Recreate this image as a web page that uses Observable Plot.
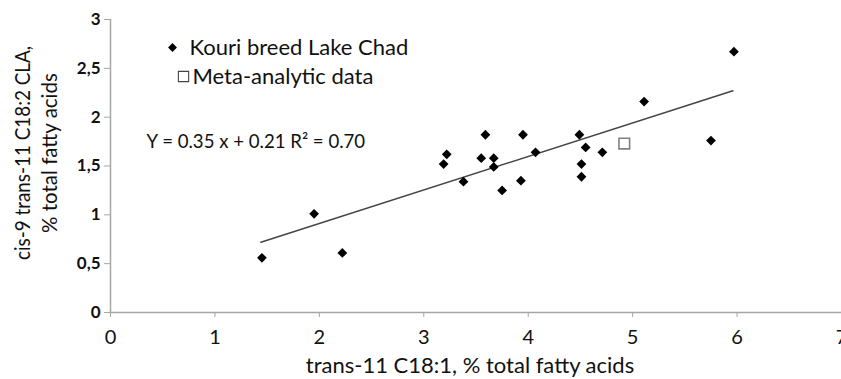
<!DOCTYPE html>
<html>
<head>
<meta charset="utf-8">
<script src="https://cdn.jsdelivr.net/npm/d3@7"></script>
<script src="https://cdn.jsdelivr.net/npm/@observablehq/plot@0.6"></script>
<style>
  html, body { margin: 0; padding: 0; background: #fff; }
  #chart { width: 841px; height: 379px; overflow: hidden; }
</style>
</head>
<body>
<div id="chart"></div>
<script>
// Kouri breed Lake Chad observations
const kouriX = [1.45, 1.95, 2.22, 3.19, 3.22, 3.38, 3.55, 3.59, 3.67, 3.67, 3.75, 3.93, 3.95, 4.07, 4.49, 4.51, 4.51, 4.55, 4.71, 5.11, 5.75, 5.97];
const kouriY = [0.56, 1.01, 0.61, 1.52, 1.62, 1.34, 1.58, 1.82, 1.58, 1.49, 1.25, 1.35, 1.82, 1.64, 1.82, 1.52, 1.39, 1.69, 1.64, 2.16, 1.76, 2.67];
// Meta-analytic data point
const metaX = [4.92];
const metaY = [1.73];
// Regression line end points (as drawn)
const fitX = [1.44, 5.96];
const fitY = [0.72, 2.27];
// Ticks
const xTicks = [0, 1, 2, 3, 4, 5, 6, 7];
const xTickLabels = ["0", "1", "2", "3", "4", "5", "6", "7"];
const yTicks = [0, 0.5, 1, 1.5, 2, 2.5, 3];
const yTickLabels = ["0", "0,5", "1", "1,5", "2", "2,5", "3"];
// Texts
const xTitle = "trans-11 C18:1, % total fatty acids";
const yTitle1 = "cis-9 trans-11 C18:2 CLA,";
const yTitle2 = "% total fatty acids";
const legendLabels = ["Kouri breed Lake Chad", "Meta-analytic data"];
const equation = "Y = 0.35 x + 0.21 R² = 0.70";

const kouri = kouriX.map((x, i) => ({x, y: kouriY[i]}));
const meta = metaX.map((x, i) => ({x, y: metaY[i]}));
const fit = fitX.map((x, i) => ({x, y: fitY[i]}));

const FONT = "Lato, 'Open Sans', sans-serif";
const AXIS = "#a6a6a6";

const chart = Plot.plot({
  width: 841,
  height: 379,
  marginLeft: 110,
  marginRight: 0,
  marginTop: 19,
  marginBottom: 67,
  style: {fontFamily: FONT, background: "#fff", overflow: "hidden"},
  x: {domain: [0, 7], axis: null},
  y: {domain: [0, 3], axis: null},
  marks: [
    // axes
    Plot.axisX({ticks: xTicks, tickFormat: d => xTickLabels[xTicks.indexOf(d)], tickSize: 5, tickPadding: 12, stroke: AXIS, fill: "#111", fontSize: 20, label: null}),
    Plot.axisY({ticks: yTicks, tickFormat: d => yTickLabels[yTicks.indexOf(d)], tickSize: 6, tickPadding: 4, stroke: AXIS, fill: "#111", fontSize: 17, fontWeight: "bold", label: null}),
    Plot.ruleY([0], {stroke: AXIS, strokeWidth: 1.5}),
    Plot.ruleX([0], {stroke: AXIS, strokeWidth: 1.5}),
    // regression line
    Plot.line(fit, {x: "x", y: "y", stroke: "#444", strokeWidth: 1.5}),
    // data
    Plot.dot(kouri, {x: "x", y: "y", symbol: "diamond2", r: 4.4, fill: "#000", stroke: "none"}),
    Plot.dot(meta, {x: "x", y: "y", symbol: "square", r: 6, fill: "#fff", stroke: "#808080", strokeWidth: 1.6}),
    // equation
    Plot.text([equation], {frameAnchor: "top-left", dx: 36, dy: 123, text: d => d, textAnchor: "start", lineAnchor: "middle", fontSize: 18.6, fill: "#111"}),
    // legend
    Plot.dot([legendLabels[0]], {frameAnchor: "top-left", dx: 62, dy: 28, symbol: "diamond2", r: 4, fill: "#000", stroke: "none"}),
    Plot.text([legendLabels[0]], {frameAnchor: "top-left", dx: 79, dy: 28, text: d => d, textAnchor: "start", lineAnchor: "middle", fontSize: 22, fill: "#111"}),
    Plot.dot([legendLabels[1]], {frameAnchor: "top-left", dx: 73, dy: 57, symbol: "square", r: 5.8, fill: "#fff", stroke: "#444", strokeWidth: 1.1}),
    Plot.text([legendLabels[1]], {frameAnchor: "top-left", dx: 82, dy: 57, text: d => d, textAnchor: "start", lineAnchor: "middle", fontSize: 22, fill: "#111"}),
    // axis titles
    Plot.text([xTitle], {frameAnchor: "bottom", dx: -6, dy: 53, text: d => d, textAnchor: "middle", lineAnchor: "middle", fontSize: 22, fill: "#111"}),
    Plot.text([yTitle1], {frameAnchor: "left", dx: -87, dy: -13, rotate: -90, text: d => d, textAnchor: "middle", lineAnchor: "middle", fontSize: 20.5, fill: "#111"}),
    Plot.text([yTitle2], {frameAnchor: "left", dx: -60, dy: -13, rotate: -90, text: d => d, textAnchor: "middle", lineAnchor: "middle", fontSize: 20.5, fill: "#111"})
  ]
});
// narrow the first y-title line to the reference's length
d3.select(chart).selectAll("text").filter(function() { return this.textContent === yTitle1; })
  .attr("textLength", 214).attr("lengthAdjust", "spacingAndGlyphs");
document.getElementById("chart").appendChild(chart);
</script>
</body>
</html>
